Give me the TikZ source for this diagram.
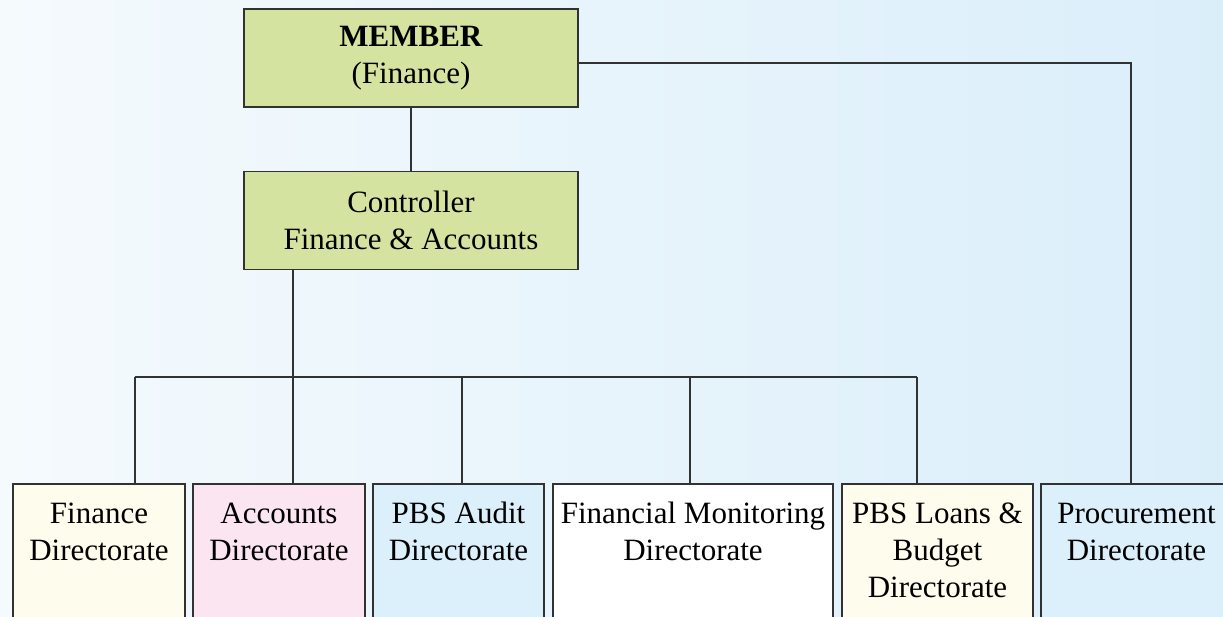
\documentclass[tikz,border=0pt]{standalone}
\usepackage{fontspec}
\setmainfont{Liberation Serif}
\definecolor{bgleft}{RGB}{245,250,253}
\definecolor{bgright}{RGB}{218,238,250}
\definecolor{membergreen}{RGB}{212,228,160}
\definecolor{creamfill}{RGB}{254,252,236}
\definecolor{pinkfill}{RGB}{251,229,240}
\definecolor{bluefill}{RGB}{220,240,251}
\definecolor{edgegray}{RGB}{50,50,50}
\newcommand{\dirlines}[1]{\begin{tabular}[t]{@{}c@{}}#1\end{tabular}}
\tikzset{
	topbox/.style={draw=edgegray, line width=1.6pt, fill=membergreen,
		minimum width=334pt, minimum height=98pt, align=center, inner sep=0pt},
	dirbox/.style={draw=edgegray, line width=1.6pt, anchor=north,
		inner sep=0pt, text height=40pt, text depth=150pt},
	link/.style={draw=edgegray, line width=1.3pt},
}
\begin{document}
\begin{tikzpicture}[x=1pt,y=-1pt,font=\fontsize{31}{37}\selectfont]
\useasboundingbox (0,0) rectangle (1223,616);
\fill[left color=bgleft, right color=bgright] (0,0) rectangle (1223,616);

% top of the chart
\node[topbox] (member) at (411,58) {\textbf{MEMBER}\\(Finance)};
\node[topbox] (ctrl) at (411,220.5) {Controller\\Finance \& Accounts};

% directorates
\node[dirbox, fill=creamfill, minimum width=172pt] (fin) at (99,483) {\dirlines{Finance\\Directorate}};
\node[dirbox, fill=pinkfill, minimum width=172pt] (acc) at (279,483) {\dirlines{Accounts\\Directorate}};
\node[dirbox, fill=bluefill, minimum width=171pt] (audit) at (458.5,483) {\dirlines{PBS Audit\\Directorate}};
\node[dirbox, fill=white, minimum width=280pt] (monit) at (693,483) {\dirlines{Financial Monitoring\\Directorate}};
\node[dirbox, fill=creamfill, minimum width=191pt] (loans) at (937.5,483) {\dirlines{PBS Loans \&\\Budget\\Directorate}};
\node[dirbox, fill=bluefill, minimum width=191pt] (proc) at (1136.5,483) {\dirlines{Procurement\\Directorate}};

% bus points
\coordinate (b1) at (135,377);
\coordinate (b2) at (293,377);
\coordinate (b3) at (462,377);
\coordinate (b4) at (690,377);
\coordinate (b5) at (917,377);

\draw[link] (member) -- (ctrl);
\draw[link] (ctrl.south -| b2) -- (b2);
\draw[link] (b1) -- (b5);
\foreach \b/\d in {b1/fin, b2/acc, b3/audit, b4/monit, b5/loans} {
	\draw[link] (\b) -- (\b |- \d.north);
}
\draw[link] ([yshift=-5pt]member.east) -| ([xshift=-5.5pt]proc.north);
\end{tikzpicture}
\end{document}
